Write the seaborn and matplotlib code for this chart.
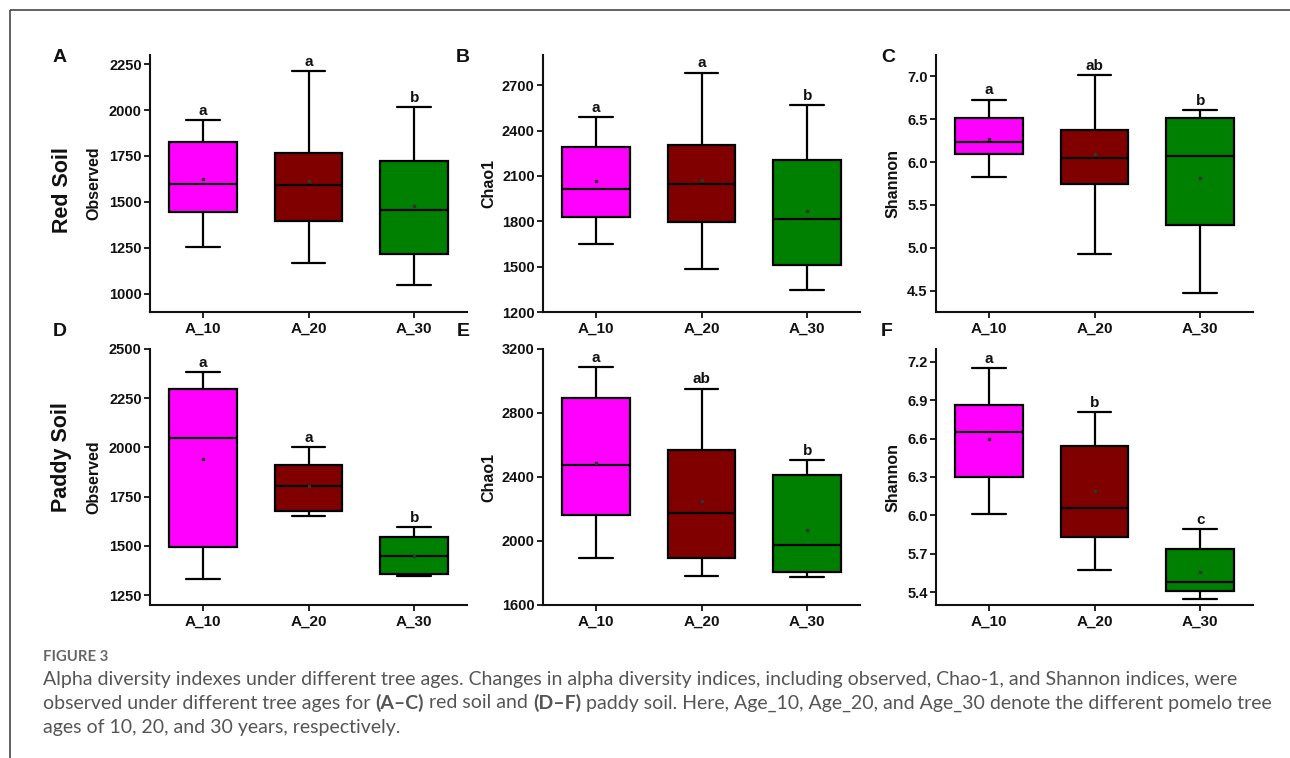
import numpy as np
import pandas as pd
import seaborn as sns
import matplotlib.pyplot as plt

# Age groups and box colours
groups = ['A_10', 'A_20', 'A_30']
colors = ['#FF00FF', '#800000', '#008000']

# five-number summaries [min, Q1, median, Q3, max] for each age group
red_observed = [[1255, 1443, 1598, 1828, 1945],
                [1166, 1396, 1593, 1768, 2213],
                [1047, 1215, 1458, 1721, 2015]]
red_chao1 = [[1652, 1831, 2011, 2292, 2489],
             [1486, 1798, 2046, 2303, 2784],
             [1344, 1508, 1816, 2206, 2571]]
red_shannon = [[5.83, 6.10, 6.23, 6.52, 6.73],
               [4.93, 5.75, 6.05, 6.38, 7.02],
               [4.47, 5.26, 6.07, 6.52, 6.61]]
paddy_observed = [[1333, 1497, 2049, 2298, 2384],
                  [1651, 1677, 1803, 1910, 2002],
                  [1349, 1357, 1451, 1543, 1595]]
paddy_chao1 = [[1891, 2161, 2473, 2896, 3087],
               [1784, 1891, 2174, 2567, 2953],
               [1778, 1805, 1975, 2415, 2505]]
paddy_shannon = [[6.01, 6.30, 6.65, 6.86, 7.15],
                 [5.57, 5.83, 6.06, 6.54, 6.81],
                 [5.35, 5.41, 5.48, 5.74, 5.89]]

# group means (small markers inside boxes)
red_observed_mean = [1627, 1615, 1476]
red_chao1_mean = [2069, 2073, 1871]
red_shannon_mean = [6.27, 6.09, 5.82]
paddy_observed_mean = [1940, 1805, 1450]
paddy_chao1_mean = [2490, 2249, 2069]
paddy_shannon_mean = [6.60, 6.19, 5.56]

# significance letters
red_observed_sig = ['a', 'a', 'b']
red_chao1_sig = ['a', 'a', 'b']
red_shannon_sig = ['a', 'ab', 'b']
paddy_observed_sig = ['a', 'a', 'b']
paddy_chao1_sig = ['a', 'ab', 'b']
paddy_shannon_sig = ['a', 'b', 'c']

W, H = 1290, 758


def rect(l, t, r, b):
    return [l / W, 1 - b / H, (r - l) / W, (b - t) / H]


sns.set_theme(style='ticks')
plt.rcParams['font.family'] = ['Liberation Sans', 'DejaVu Sans']

fig = plt.figure(figsize=(W / 100, H / 100), dpi=100)
fig.patch.set_facecolor('white')

# overlay in pixel coordinates for frame and captions
ov = fig.add_axes([0, 0, 1, 1])
ov.set_xlim(0, W)
ov.set_ylim(H, 0)
ov.axis('off')
ov.plot([10, W], [10, 10], color='#555555', lw=1.3, solid_capstyle='butt')
ov.plot([10, 10], [10, H], color='#555555', lw=1.3, solid_capstyle='butt')

panels = [
    ('A', red_observed, red_observed_mean, red_observed_sig, 'Observed', (900, 2300), np.arange(1000, 2251, 250), '%d', (150, 55, 467, 312), -0.176),
    ('B', red_chao1, red_chao1_mean, red_chao1_sig, 'Chao1', (1200, 2900), np.arange(1200, 2701, 300), '%d', (543, 55, 860, 312), -0.172),
    ('C', red_shannon, red_shannon_mean, red_shannon_sig, 'Shannon', (4.25, 7.25), np.arange(4.5, 7.01, 0.5), '%.1f', (936, 55, 1253, 312), -0.135),
    ('D', paddy_observed, paddy_observed_mean, paddy_observed_sig, 'Observed', (1200, 2500), np.arange(1250, 2501, 250), '%d', (150, 349, 467, 605), -0.176),
    ('E', paddy_chao1, paddy_chao1_mean, paddy_chao1_sig, 'Chao1', (1600, 3200), np.arange(1600, 3201, 400), '%d', (543, 349, 860, 605), -0.172),
    ('F', paddy_shannon, paddy_shannon_mean, paddy_shannon_sig, 'Shannon', (5.3, 7.3), np.arange(5.4, 7.21, 0.3), '%.1f', (936, 349, 1253, 605), -0.135),
]

for letter, summary, means, sig, ylabel, ylim, yticks, fmt, box, labx in panels:
    ax = fig.add_axes(rect(*box))
    ax.patch.set_alpha(0)
    df = pd.DataFrame({'Age': np.repeat(groups, 5),
                       'value': np.concatenate(summary)})
    sns.boxplot(data=df, x='Age', y='value', hue='Age', palette=colors,
                order=groups, hue_order=groups, width=0.64, whis=(0, 100),
                linewidth=1.6, linecolor='black', saturation=1,
                showfliers=False, legend=False, ax=ax)
    ax.scatter(np.arange(3), means, marker='s', s=2, color='#333333', zorder=5)
    for i in range(3):
        ax.annotate(sig[i], xy=(i, summary[i][4]), xytext=(0, 1.5),
                    textcoords='offset points', ha='center', va='bottom',
                    fontsize=11, fontweight='bold', color='#111111')
    ax.set_xlim(-0.5, 2.5)
    ax.set_ylim(*ylim)
    ax.set_yticks(yticks)
    ax.set_yticklabels([fmt % v for v in yticks])
    ax.set_xlabel('')
    ax.set_ylabel(ylabel, fontsize=11.5, fontweight='bold', color='#111111')
    ax.yaxis.label.set_va('center')
    ax.yaxis.set_label_coords(labx, 0.5)
    for s in ['top', 'right']:
        ax.spines[s].set_visible(False)
    for s in ['left', 'bottom']:
        ax.spines[s].set_linewidth(1.5)
        ax.spines[s].set_color('#111111')
    ax.tick_params(axis='both', length=4, width=1.3, color='#111111',
                   labelsize=10.5, labelcolor='#111111', pad=2)
    for lab in ax.get_xticklabels() + ax.get_yticklabels():
        lab.set_fontweight('bold')
    ax.tick_params(axis='x', labelsize=11, pad=3)
    ax.grid(False)

# panel letters
for letter, x, y in [('A', 60, 57), ('B', 463, 57), ('C', 888, 57),
                     ('D', 60, 331), ('E', 463, 331), ('F', 887, 331)]:
    ov.text(x, y, letter, fontsize=14, fontweight='bold', ha='center',
            va='center', color='#111111')

# row labels
ov.text(63, 190, 'Red Soil', fontsize=15.5, fontweight='bold', rotation=90,
        ha='center', va='center', color='#111111')
ov.text(62, 457, 'Paddy Soil', fontsize=15.5, fontweight='bold', rotation=90,
        ha='center', va='center', color='#111111')

# caption
cap_color = '#555555'
cap_font = ['Lato', 'DejaVu Sans']
cap_size = 14
ov.text(43, 657, 'FIGURE 3', fontsize=10.7, fontweight='bold', color='#666666',
        family=cap_font, va='center')
ov.text(43, 680, 'Alpha diversity indexes under different tree ages. Changes in alpha diversity '
        'indices, including observed, Chao-1, and Shannon indices, were',
        fontsize=cap_size, color=cap_color, family=cap_font, va='center')

parts = [('observed under different tree ages for ', 'normal'),
         ('(A\u2013C)', 'bold'),
         (' red soil and ', 'normal'),
         ('(D\u2013F)', 'bold'),
         (' paddy soil. Here, Age_10, Age_20, and Age_30 denote the different pomelo tree', 'normal')]
t = ov.text(43, 703, parts[0][0], fontsize=cap_size, color=cap_color, family=cap_font,
            va='center', fontweight=parts[0][1])
for s, w in parts[1:]:
    t = ov.annotate(s, xy=(1, 0), xycoords=t, va='bottom', ha='left',
                    fontsize=cap_size, color=cap_color, family=cap_font, fontweight=w)
ov.text(43, 727, 'ages of 10, 20, and 30 years, respectively.', fontsize=cap_size,
        color=cap_color, family=cap_font, va='center')

fig.savefig('out.png', dpi=100, facecolor='white')
